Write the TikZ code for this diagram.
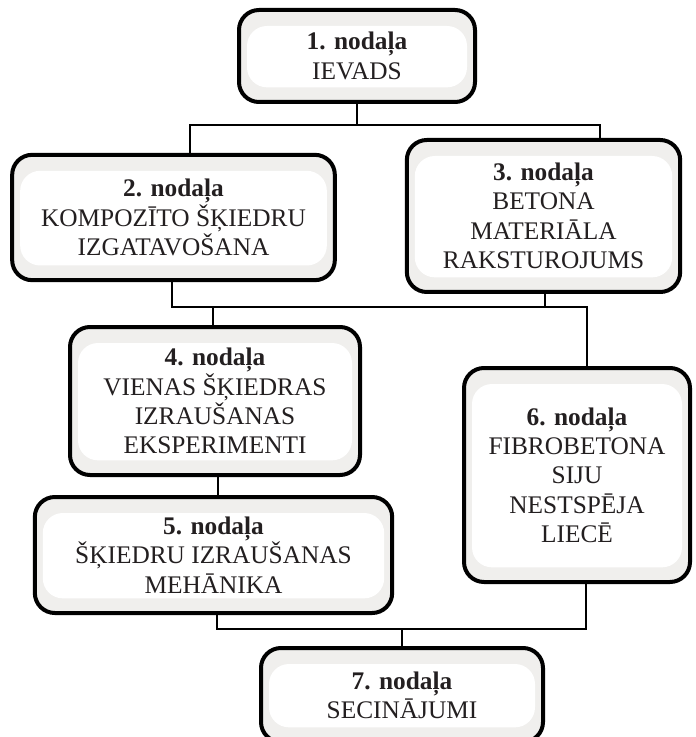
\documentclass[tikz,border=0pt]{standalone}
\usepackage{fontspec}
\setmainfont{Liberation Serif}
\definecolor{txt}{HTML}{231F20}
\definecolor{band}{HTML}{F0EFED}
\begin{document}
\begin{tikzpicture}[x=0.75pt,y=-0.75pt,
  chap/.style={draw=black, line width=3pt, rounded corners=15pt, fill=band,
    inner sep=0pt, align=center, text=txt,
    font=\fontsize{19pt}{22pt}\selectfont,
    path picture={\fill[white]
      ([xshift=6pt,yshift=-12pt]path picture bounding box.north west) rectangle
      ([xshift=-6pt,yshift=11pt]path picture bounding box.south east);}},
  conn/.style={draw=black, line width=1.9pt}]
\useasboundingbox (0,0) rectangle (695,737);

\node[chap, minimum width=177pt, minimum height=69pt] (b1) at (357,56)
  {\textbf{1. nodaļa}\\IEVADS};
\node[chap, minimum width=242pt, minimum height=94pt] (b2) at (173.5,217.5)
  {\textbf{2. nodaļa}\\KOMPOZĪTO ŠĶIEDRU\\IZGATAVOŠANA};
\node[chap, minimum width=205pt, minimum height=114pt] (b3) at (543.5,216)
  {\textbf{3. nodaļa}\\BETONA\\MATERIĀLA\\RAKSTUROJUMS};
\node[chap, minimum width=217.5pt, minimum height=111pt] (b4) at (215,401)
  {\textbf{4. nodaļa}\\VIENAS ŠĶIEDRAS\\IZRAUŠANAS\\EKSPERIMENTI};
\node[chap, minimum width=268pt, minimum height=87pt] (b5) at (213.5,555)
  {\textbf{5. nodaļa}\\ŠĶIEDRU IZRAUŠANAS\\MEHĀNIKA};
\node[chap, minimum width=169.5pt, minimum height=160.5pt] (b6) at (577,475)
  {\textbf{6. nodaļa}\\FIBROBETONA\\SIJU\\NESTSPĒJA\\LIECĒ};
\node[chap, minimum width=211.5pt, minimum height=70.5pt] (b7) at (402,695)
  {\textbf{7. nodaļa}\\SECINĀJUMI};

% level 1
\coordinate (h1l) at (190,125);
\coordinate (h1r) at (600,125);
\draw[conn] (b1.south) -- (b1.south |- h1l);
\draw[conn] (h1l |- b2.north) -- (h1l) -- (h1r) -- (h1r |- b3.north);

% level 2
\coordinate (h2l) at (172,307);
\coordinate (h2r) at (587,307);
\coordinate (h2a) at (545,307);
\coordinate (h2b) at (213,307);
\draw[conn] (h2l |- b2.south) -- (h2l) -- (h2r) -- (h2r |- b6.north);
\draw[conn] (h2a |- b3.south) -- (h2a);
\draw[conn] (h2b) -- (h2b |- b4.north);

% box 4 to box 5
\coordinate (v45) at (218,480);
\draw[conn] (v45 |- b4.south) -- (v45 |- b5.north);

% level 3
\coordinate (h3l) at (217,629);
\coordinate (h3r) at (586,629);
\coordinate (h3m) at (402,629);
\draw[conn] (h3l |- b5.south) -- (h3l) -- (h3r) -- (h3r |- b6.south);
\draw[conn] (h3m) -- (h3m |- b7.north);
\end{tikzpicture}
\end{document}
